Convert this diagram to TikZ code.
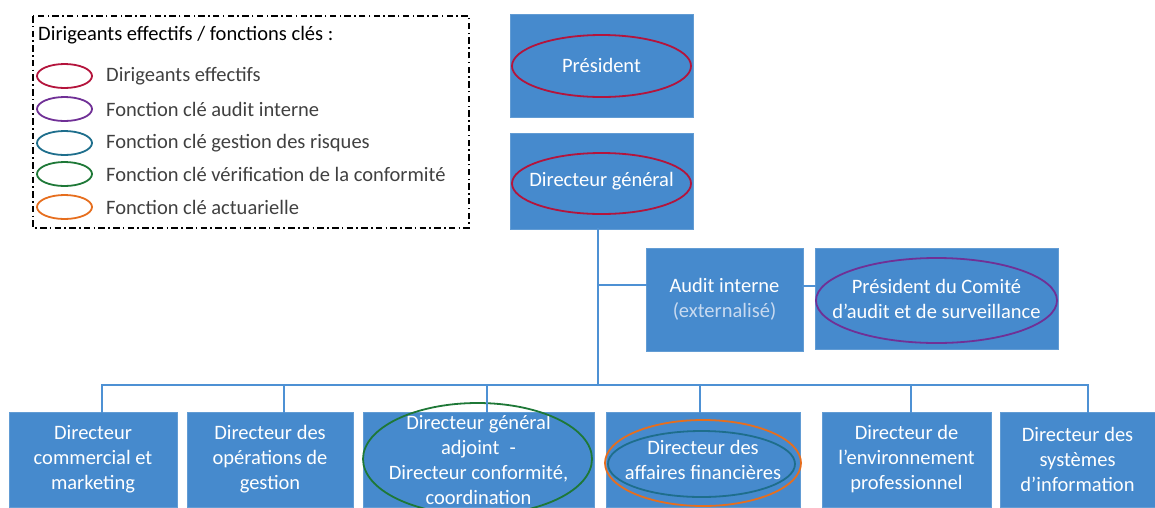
\documentclass[tikz,border=0pt]{standalone}
\usepackage{fontspec}
\setmainfont{Carlito}
\usetikzlibrary{shapes.geometric}

\definecolor{boxblue}{RGB}{70,138,205}
\definecolor{lineblue}{RGB}{78,145,212}
\definecolor{extblue}{RGB}{200,218,240}
\definecolor{ringred}{RGB}{180,20,60}
\definecolor{ringpurple}{RGB}{112,48,150}
\definecolor{ringteal}{RGB}{30,110,140}
\definecolor{ringgreen}{RGB}{30,120,55}
\definecolor{ringorange}{RGB}{230,110,30}
\definecolor{legendgray}{RGB}{64,64,64}

\tikzset{
  orgbox/.style={rectangle,fill=boxblue,draw=boxblue!85!white,line width=0.8pt,
    text=white,align=center,inner sep=0pt,font=\fontsize{20.5}{25}\selectfont},
  ring/.style={ellipse,draw=#1,line width=1.8pt,inner sep=0pt},
  link/.style={draw=lineblue,line width=2.7pt,line cap=rect},
  legtext/.style={anchor=west,inner sep=0pt,font=\fontsize{20.5}{25}\selectfont},
}

\begin{document}
\begin{tikzpicture}[x=1pt,y=-1pt]
		\useasboundingbox (0,0) rectangle (1155,507);
		\pgfmathsetmacro\BUS{385}
		\pgfmathsetmacro\ROW{459.5}
		% legend
		\draw[dash pattern=on 6.5pt off 3.3pt on 1.5pt off 3.3pt,line width=1.4pt] (33,16) rectangle (469,228);
		\node[legtext] (lgtitle) at (38,35) {Dirigeants effectifs / fonctions clés :};
		\foreach \i/\y/\c/\t in {1/76/ringred/Dirigeants effectifs,
		                         2/109/ringpurple/Fonction clé audit interne,
		                         3/143/ringteal/Fonction clé gestion des risques,
		                         4/174/ringgreen/Fonction clé vérification de la conformité,
		                         5/207/ringorange/Fonction clé actuarielle}{
			\node[ring=\c,minimum width=55pt,minimum height=24pt] (lgring\i) at (64.5,\y) {};
			\node[legtext,text=legendgray] (lgtext\i) at (106,\y) {\t};
		}
		% top of the chart
		\node[orgbox,minimum width=183pt,minimum height=103pt] (pres) at (601.5,65.5) {Président};
		\node[orgbox,minimum width=183pt,minimum height=96pt] (dg) at (601.5,181) {Directeur général};
		\node[orgbox,minimum width=157pt,minimum height=103pt] (audit) at (724.5,299.5)
			{Audit interne\\\textcolor{extblue}{(externalisé)}};
		\node[orgbox,minimum width=243pt,minimum height=101pt] (comite) at (936.5,298.5)
			{Président du Comité\\d’audit et de surveillance};
		% directors
		\node[orgbox,minimum width=168pt,minimum height=95pt] (b1) at (93,\ROW) {Directeur\\commercial et\\marketing};
		\node[orgbox,minimum width=166pt,minimum height=95pt] (b2) at (270,\ROW) {Directeur des\\opérations de\\gestion};
		\node[orgbox,minimum width=231pt,minimum height=95pt] (b3) at (478.5,\ROW)
			{Directeur général\\adjoint\enspace-\\Directeur conformité,\\coordination};
		\node[orgbox,minimum width=194pt,minimum height=95pt] (b4) at (703,\ROW) {Directeur des\\affaires financières};
		\node[orgbox,minimum width=169pt,minimum height=95pt] (b5) at (906.5,\ROW) {Directeur de\\l’environnement\\professionnel};
		\node[orgbox,minimum width=155pt,minimum height=95pt] (b6) at (1077.5,\ROW) {Directeur des\\systèmes\\d’information};
		% rings
		\node[ring=ringred,minimum width=179pt,minimum height=62pt] (presring) at (601.5,66) {};
		\node[ring=ringred,minimum width=179pt,minimum height=61pt] (dgring) at (601.5,183.5) {};
		\node[ring=ringpurple,minimum width=241pt,minimum height=85pt] (comitering) at (936.5,300.5) {};
		\node[ring=ringgreen,minimum width=229pt,minimum height=112pt] (b3ring) at (477.5,459) {};
		\node[ring=ringorange,minimum width=196pt,minimum height=86pt] (b4outer) at (703,463) {};
		\node[ring=ringteal,minimum width=187pt,minimum height=66pt] (b4inner) at (701.5,464) {};
		% links
		\coordinate (bus) at (598,\BUS);
		\draw[link] ([xshift=-3.5pt]dg.south) -- ([xshift=-3.5pt]dg.south |- bus);
		\draw[link] ([yshift=14.5pt]audit.west) -- ([yshift=14.5pt]audit.west -| bus);
		\draw[link] ([yshift=13.5pt]audit.east) -- ([yshift=13.5pt]audit.east -| comite.west);
		\draw[link] ([xshift=9pt]b1.north |- bus) -- ([xshift=10.5pt]b6.north |- bus);
		\foreach \b/\dx in {b1/9,b2/14,b3/8.5,b4/-3,b5/4.5,b6/10.5}
			\draw[link] ([xshift=\dx pt]\b.north) -- ([xshift=\dx pt]\b.north |- bus);
		%\draw[link] (pres.south) -- (dg.north);
\end{tikzpicture}
\end{document}
